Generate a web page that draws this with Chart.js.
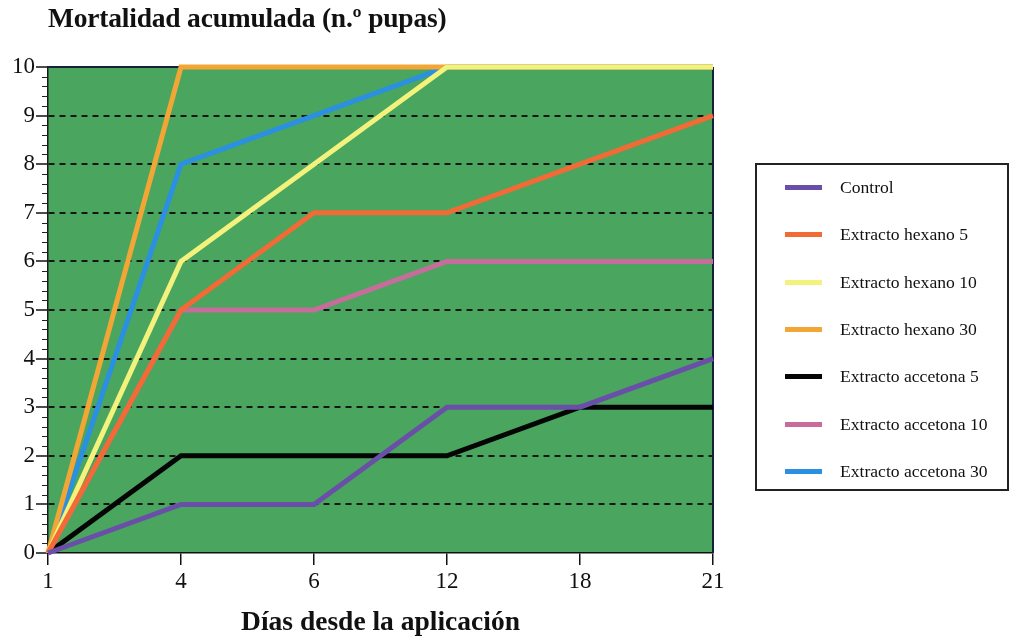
<!DOCTYPE html>
<html>
<head>
<meta charset="utf-8">
<script src="https://cdn.jsdelivr.net/npm/chart.js@4"></script>
<style>
  html, body { margin: 0; padding: 0; background: #fff; }
  #wrap { position: relative; width: 1018px; height: 642px; }
  #c { position: absolute; left: 0; top: 0; }
  #title { position: absolute; left: 48px; top: 2px; font: bold 27.5px "Liberation Serif", "Times New Roman", serif; color: #111; white-space: nowrap; letter-spacing: -0.2px; }
  #legend { position: absolute; left: 755px; top: 163px; width: 254px; height: 328px; border: 2px solid #222; box-sizing: border-box; }
  .item { position: absolute; left: 0; height: 24px; width: 100%; }
  .sw { position: absolute; left: 28px; top: 10px; width: 37px; height: 5px; }
  .lbl { position: absolute; left: 83px; top: 0; font: 17.6px "Liberation Serif", "Times New Roman", serif; color: #111; line-height: 24px; white-space: nowrap; }
</style>
</head>
<body>
<div id="wrap">
  <canvas id="c" width="1018" height="642"></canvas>
  <div id="title">Mortalidad acumulada (n.º pupas)</div>
  <div id="legend"></div>
</div>
<script>
// ---- data ----
const categories = ['1', '4', '6', '12', '18', '21'];
const seriesNames = ['Control', 'Extracto hexano 5', 'Extracto hexano 10', 'Extracto hexano 30', 'Extracto accetona 5', 'Extracto accetona 10', 'Extracto accetona 30'];
const control      = [0, 1, 1, 3, 3, 4];
const hexano5      = [0, 5, 7, 7, 8, 9];
const hexano10     = [0, 6, 8, 10, 10, 10];
const hexano30     = [0, 10, 10, 10, 10, 10];
const accetona5    = [0, 2, 2, 2, 3, 3];
const accetona10   = [0, 5, 5, 6, 6, 6];
const accetona30   = [0, 8, 9, 10, 10, 10];
const yTicks = [0, 1, 2, 3, 4, 5, 6, 7, 8, 9, 10];

const seriesValues = [control, hexano5, hexano10, hexano30, accetona5, accetona10, accetona30];
const seriesColors = ['#6a4fa8', '#f26a35', '#f3f27c', '#f2a636', '#050505', '#c86c9c', '#2b8fe2'];

// ---- legend (HTML) ----
const legendEl = document.getElementById('legend');
seriesNames.forEach((name, i) => {
  const it = document.createElement('div');
  it.className = 'item';
  it.style.top = (10 + i * 47.3) + 'px';
  const sw = document.createElement('div');
  sw.className = 'sw';
  sw.style.background = seriesColors[i];
  const lb = document.createElement('div');
  lb.className = 'lbl';
  lb.textContent = name;
  it.appendChild(sw); it.appendChild(lb);
  legendEl.appendChild(it);
});

const GREEN = '#4aa55f';

const framePlugin = {
  id: 'frame',
  beforeDraw(chart) {
    const { ctx, chartArea: a } = chart;
    ctx.save();
    ctx.fillStyle = GREEN;
    ctx.fillRect(a.left, a.top, a.right - a.left, a.bottom - a.top);
    ctx.restore();
  },
  beforeDatasetsDraw(chart) {
    const { ctx, chartArea: a, scales } = chart;
    const y = scales.y;
    ctx.save();
    ctx.strokeStyle = '#14213a';
    ctx.lineWidth = 2;
    ctx.beginPath();
    ctx.moveTo(a.left, a.top); ctx.lineTo(a.right, a.top);
    ctx.moveTo(a.right, a.top); ctx.lineTo(a.right, a.bottom);
    ctx.stroke();
    ctx.strokeStyle = '#222';
    ctx.lineWidth = 1.2;
    ctx.beginPath();
    for (let k = 0; k <= 50; k++) {
      if (k % 5 === 0) continue;
      const py = Math.round(y.getPixelForValue(k / 5)) + 0.5;
      ctx.moveTo(a.left - 6, py); ctx.lineTo(a.left, py);
    }
    ctx.stroke();
    ctx.restore();
  }
};

const datasets = seriesNames.map((name, i) => ({
  label: name,
  data: seriesValues[i],
  borderColor: seriesColors[i],
  backgroundColor: seriesColors[i],
  borderWidth: 5,
  pointRadius: 0,
  pointHoverRadius: 0,
  tension: 0,
  fill: false,
  clip: 8
}));

const SERIF = '"Liberation Serif", "Times New Roman", serif';

new Chart(document.getElementById('c'), {
  type: 'line',
  data: { labels: categories, datasets },
  plugins: [framePlugin],
  options: {
    responsive: false,
    animation: false,
    events: [],
    layout: { padding: { top: 67, right: 305, left: 0, bottom: 0 } },
    plugins: { legend: { display: false }, title: { display: false }, tooltip: { enabled: false } },
    scales: {
      x: {
        type: 'category',
        offset: false,
        afterFit(s) { s.height = 89; },
        grid: { drawOnChartArea: false, color: '#111', tickColor: '#111', tickLength: 12, lineWidth: 1.5 },
        border: { display: true, color: '#111', width: 1.5 },
        ticks: { color: '#111', padding: 3, font: { family: SERIF, size: 23 } },
        title: { display: true, text: 'Días desde la aplicación', color: '#111', padding: { top: 0, bottom: 3 }, font: { family: SERIF, size: 27.5, weight: 'bold' } }
      },
      y: {
        min: 0, max: 10,
        afterFit(s) { s.width = 48; },
        afterBuildTicks(s) { s.ticks = yTicks.map(v => ({ value: v })); },
        grid: {
          color: (c) => (c.tick && (c.tick.value === 0 || c.tick.value === 10)) ? 'rgba(0,0,0,0)' : '#161616',
          lineWidth: 2,
          tickColor: '#111',
          tickLength: 12,
          tickWidth: 1.5
        },
        border: { display: true, color: '#1a1a1a', width: 1.5, dash: [6, 5] },
        ticks: { color: '#111', padding: 1, font: { family: SERIF, size: 23 } }
      }
    }
  }
});
</script>
</body>
</html>
